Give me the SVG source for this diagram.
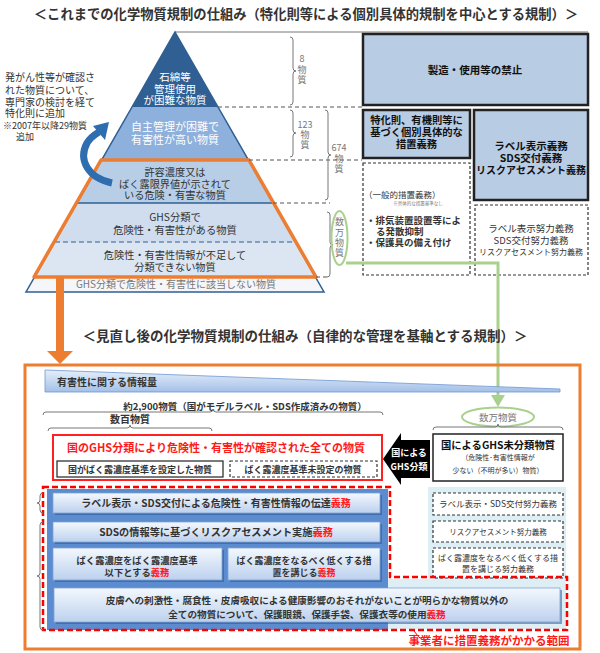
<svg xmlns="http://www.w3.org/2000/svg" width="600" height="653" viewBox="0 0 600 653">
<style>
text{font-family:'Noto Sans CJK JP','Noto Sans',sans-serif;fill:#333}
.c{text-anchor:middle}
.b{font-weight:bold}
.w{fill:#fff}
.g{fill:#777}
.r{fill:#FF1A1A}
.k{fill:#111}
.brace{fill:none;stroke:#777;stroke-width:1}
.dl{stroke:#555;stroke-width:1;stroke-dasharray:4 3;fill:none}
.sbox{fill:#B8CCE4;stroke:#222;stroke-width:2.5}
.dbox{fill:#fff;stroke:#333;stroke-width:1.2;stroke-dasharray:3 2}
.bar{fill:url(#barg);stroke:#7FA3D6;stroke-width:0.8}
.sh{fill:#2F5590;opacity:0.55}
</style>
<defs>
<linearGradient id="barg" x1="0" y1="0" x2="0" y2="1">
<stop offset="0" stop-color="#F4F8FD"/><stop offset="1" stop-color="#BCD1EE"/>
</linearGradient>
<linearGradient id="wedg" x1="0" y1="0" x2="0" y2="1">
<stop offset="0" stop-color="#E6EFFA"/><stop offset="1" stop-color="#A3C0E8"/>
</linearGradient>
</defs>
<rect width="600" height="653" fill="#fff"/>

<g id="title-top"><text class="c b" x="306" y="19" font-size="13.3">＜これまでの化学物質規制の仕組み（特化則等による個別具体的規制を中心とする規制）＞</text></g>

<line x1="175" y1="32" x2="588" y2="32" stroke="#777" stroke-width="1"/>

<g id="pyramid">
<polygon points="175,32 218,107 132,107" fill="#2F5F93"/>
<polygon points="132,107 218,107 249,160 101,160" fill="#8DB0DC"/>
<polygon points="101,160 249,160 273,203 77,203" fill="#B8CDE6"/>
<polygon points="77,203 273,203 295,242 55,242" fill="#D0DDEF"/>
<polygon points="55,242 295,242 316,277 34,277" fill="#DCE6F2"/>
<polygon points="34,277 316,277 324,292 26,292" fill="#F4F6FA"/>
<polygon points="175,32 324,292 26,292" fill="none" stroke="#2F5F93" stroke-width="1.5"/>
<line x1="77" y1="203" x2="273" y2="203" stroke="#2F5F93" stroke-width="1.5"/>
<line x1="55" y1="242" x2="295" y2="242" stroke="#2F5F93" stroke-width="1.2" stroke-dasharray="5 3"/>
<polygon points="101,160 249,160 316,277 34,277" fill="none" stroke="#ED7D31" stroke-width="3.5" stroke-linejoin="round"/>
<text class="c w" x="175" y="80.5" font-size="10.5">石綿等</text>
<text class="c w" x="175" y="92.5" font-size="10.5">管理使用</text>
<text class="c w" x="175" y="104" font-size="10.5">が困難な物質</text>
<text class="c w" x="175" y="131" font-size="11">自主管理が困難で</text>
<text class="c w" x="175" y="144" font-size="11">有害性が高い物質</text>
<text class="c" x="175" y="176" font-size="10.2">許容濃度又は</text>
<text class="c" x="175" y="187.5" font-size="10.2">ばく露限界値が示されて</text>
<text class="c" x="175" y="199" font-size="10.2">いる危険・有害な物質</text>
<text class="c" x="175" y="221" font-size="10.3">GHS分類で</text>
<text class="c" x="175" y="234" font-size="10.3">危険性・有害性がある物質</text>
<text class="c" x="175" y="259" font-size="10.2">危険性・有害性情報が不足して</text>
<text class="c" x="175" y="271" font-size="10.2">分類できない物質</text>
<text class="c g" x="176" y="288" font-size="10">GHS分類で危険性・有害性に該当しない物質</text>
</g>

<g id="curved-arrow">
<path d="M112,183 C88,178 78,160 87,143 C90,138 94,135 99,132" fill="none" stroke="#2E6DB0" stroke-width="7"/>
<polygon points="109,122 93,126 105,140" fill="#2E6DB0"/>
</g>

<g id="left-note">
<text x="5" y="81" font-size="10">発がん性等が確認さ</text>
<text x="5" y="93.5" font-size="10">れた物質について、</text>
<text x="5" y="105.5" font-size="10">専門家の検討を経て</text>
<text x="5" y="117" font-size="10">特化則に追加</text>
<text x="3" y="128.5" font-size="9">※2007年以降29物質</text>
<text x="16" y="139.5" font-size="9">追加</text>
</g>

<g id="counts">
<line class="dl" x1="218" y1="107" x2="362" y2="107"/>
<line class="dl" x1="249" y1="160" x2="362" y2="160"/>
<line class="dl" x1="273" y1="203" x2="330" y2="203"/>
<line class="dl" x1="316" y1="277" x2="330" y2="277"/>
<path class="brace" d="M290,37 Q293,37 293,40 V68 Q293,71 296,71 Q293,71 293,74 V102 Q293,105 290,105"/>
<text class="c g" x="302" y="62" font-size="9">8</text>
<text class="c g" x="302" y="72.5" font-size="9">物</text>
<text class="c g" x="302" y="83" font-size="9">質</text>
<path class="brace" d="M290,110 Q293,110 293,113 V130 Q293,133 296,133 Q293,133 293,136 V154 Q293,157 290,157"/>
<text class="c g" x="305" y="128" font-size="9">123</text>
<text class="c g" x="305" y="138" font-size="9">物</text>
<text class="c g" x="305" y="147.5" font-size="9">質</text>
<path class="brace" d="M325,110 Q328,110 328,113 V152 Q328,155 331,155 Q328,155 328,158 V197 Q328,200 325,200"/>
<text class="c g" x="339" y="151" font-size="9">674</text>
<text class="c g" x="339" y="161.5" font-size="9">物</text>
<text class="c g" x="339" y="172" font-size="9">質</text>
<path class="brace" d="M327,212 Q330,212 330,215 V242 Q330,245 333,245 Q330,245 330,248 V274 Q330,277 327,277"/>
<ellipse cx="339.5" cy="238" rx="8" ry="27" fill="none" stroke="#A9D18E" stroke-width="2"/>
<text class="c g" x="339.5" y="225" font-size="9">数</text>
<text class="c g" x="339.5" y="235.5" font-size="9">万</text>
<text class="c g" x="339.5" y="245.5" font-size="9">物</text>
<text class="c g" x="339.5" y="255.5" font-size="9">質</text>
</g>

<g id="box-ban">
<rect class="sbox" x="363" y="34" width="225" height="71"/>
<text class="c b k" x="475" y="74" font-size="10.5">製造・使用等の禁止</text>
</g>
<g id="box-specific">
<rect class="sbox" x="363" y="110" width="107" height="48"/>
<text class="c b k" x="416.5" y="124" font-size="10.3">特化則、有機則等に</text>
<text class="c b k" x="416.5" y="136" font-size="10.3">基づく個別具体的な</text>
<text class="c b k" x="416.5" y="147.5" font-size="10.3">措置義務</text>
</g>
<g id="box-label-duty">
<rect class="sbox" x="474" y="110" width="114" height="90"/>
<text class="c b k" x="531" y="150" font-size="10.5">ラベル表示義務</text>
<text class="c b k" x="531" y="162" font-size="10.5">SDS交付義務</text>
<text class="c b k" x="531" y="174" font-size="10">リスクアセスメント義務</text>
</g>
<g id="box-general">
<rect class="dbox" x="363" y="163" width="107" height="112"/>
<text x="364" y="198" font-size="8.5">（一般的措置義務）</text>
<text class="c g" x="418" y="205" font-size="4.5">※具体的な措置基準なし</text>
<text class="b" x="366" y="223.5" font-size="9.5">・排気装置設置等によ</text>
<text class="b" x="376" y="234.5" font-size="9.5">る発散抑制</text>
<text class="b" x="366" y="245.5" font-size="9.5">・保護具の備え付け</text>
</g>
<g id="box-effort">
<rect class="dbox" x="475" y="205" width="113" height="70"/>
<text class="c" x="531" y="231.5" font-size="9.5">ラベル表示努力義務</text>
<text class="c" x="531" y="243.5" font-size="9.5" fill="#555">SDS交付努力義務</text>
<text class="c" x="531" y="255" font-size="8">リスクアセスメント努力義務</text>
</g>

<g id="connectors">
<polyline points="346,263 498,263 498,396" fill="none" stroke="#A9D18E" stroke-width="3"/>
<polygon points="491,395 505,395 498,407" fill="#A9D18E"/>
<rect x="56" y="277" width="8" height="75" fill="#ED7D31"/>
<polygon points="47,351 73,351 60,364" fill="#ED7D31"/>
</g>

<g id="title-bottom"><text class="c b" x="305" y="341" font-size="13.5">＜見直し後の化学物質規制の仕組み（自律的な管理を基軸とする規制）＞</text></g>

<g id="frame">
<rect x="25" y="365" width="555" height="284" fill="none" stroke="#ED7D31" stroke-width="3"/>
</g>

<g id="info-wedge">
<polygon points="45,370 560,389 560,392 45,392" fill="url(#wedg)" stroke="#6E97D2" stroke-width="0.8"/>
<text class="b" x="57" y="386" font-size="10">有害性に関する情報量</text>
</g>

<g id="range-2900">
<text class="c b" x="245" y="410" font-size="9.5">約2,900物質（国がモデルラベル・SDS作成済みの物質）</text>
<path class="brace" d="M43,415 Q43,412 46,412 H210 Q213,412 213,409 Q213,412 216,412 H380 Q383,412 383,415"/>
</g>
<g id="range-hundreds">
<text class="c b" x="130" y="422.5" font-size="10">数百物質</text>
<path class="brace" d="M48,431 Q48,428 51,428 H127 Q130,428 130,425 Q130,428 133,428 H209 Q212,428 212,431"/>
</g>

<g id="box-ghs-confirmed">
<rect x="53" y="435" width="329" height="45" fill="#fff" stroke="#FF2020" stroke-width="2"/>
<text class="c b r" x="216" y="452" font-size="11">国のGHS分類により危険性・有害性が確認された全ての物質</text>
<rect x="57" y="461" width="166" height="16" fill="#fff" stroke="#222" stroke-width="1.2"/>
<text class="c b" x="140" y="473" font-size="9">国がばく露濃度基準を設定した物質</text>
<rect class="dbox" x="230" y="461" width="147" height="16"/>
<text class="c b" x="303" y="473" font-size="9">ばく露濃度基準未設定の物質</text>
</g>

<g id="arrow-ghs">
<polygon points="383,459 401,433 401,440 430,440 430,478 401,478 401,485" fill="#000"/>
<text class="c b w" x="409" y="456" font-size="9">国による</text>
<text class="c b w" x="409" y="470" font-size="9">GHS分類</text>
</g>

<g id="unclassified">
<ellipse cx="498" cy="417" rx="36" ry="9.5" fill="#fff" stroke="#A9D18E" stroke-width="2"/>
<text class="c g" x="498" y="420.5" font-size="9.5">数万物質</text>
<path class="brace" d="M433,430 Q433,427 436,427 H495 Q498,427 498,424 Q498,427 501,427 H560 Q563,427 563,430"/>
<rect x="433" y="434" width="130" height="47" fill="#fff" stroke="#222" stroke-width="1.5"/>
<text class="c b k" x="498" y="449" font-size="10.3">国によるGHS未分類物質</text>
<text class="c" x="498" y="460" font-size="7">（危険性･有害性情報が</text>
<text class="c" x="498" y="472.5" font-size="7">少ない（不明が多い）物質）</text>
</g>

<g id="duties">
<rect x="47" y="489" width="341" height="141" fill="#5B8CCF"/>
<path d="M428,487 H566 V629 H388 V579 H428 Z" fill="#DDEEF4"/>
<rect class="sh" x="55" y="495" width="327" height="20"/>
<rect class="bar" x="53" y="493" width="327" height="20"/>
<text class="c b" x="216" y="507" font-size="10">ラベル表示・SDS交付による危険性・有害性情報の伝達<tspan class="r">義務</tspan></text>
<rect class="sh" x="55" y="524" width="327" height="20"/>
<rect class="bar" x="53" y="522" width="327" height="20"/>
<text class="c b" x="216" y="535.5" font-size="10.2">SDSの情報等に基づくリスクアセスメント実施<tspan class="r">義務</tspan></text>
<rect class="sh" x="55" y="550" width="169" height="32"/>
<rect class="bar" x="53" y="548" width="169" height="32"/>
<text class="c b" x="137" y="563.5" font-size="9.3">ばく露濃度をばく露濃度基準</text>
<text class="c b" x="137" y="575.5" font-size="9.3">以下とする<tspan class="r">義務</tspan></text>
<rect class="sh" x="230" y="550" width="152" height="32"/>
<rect class="bar" x="228" y="548" width="152" height="32"/>
<text class="c b" x="304" y="563.5" font-size="9">ばく露濃度をなるべく低くする措</text>
<text class="c b" x="304" y="575.5" font-size="9">置を講じる<tspan class="r">義務</tspan></text>
<rect class="sh" x="56" y="590" width="506" height="34"/>
<rect class="bar" x="54" y="588" width="506" height="34"/>
<text class="c b" x="307" y="603.5" font-size="9.6">皮膚への刺激性・腐食性・皮膚吸収による健康影響のおそれがないことが明らかな物質以外の</text>
<text class="c b" x="307" y="617.5" font-size="9.6">全ての物質について、保護眼鏡、保護手袋、保護衣等の使用<tspan class="r">義務</tspan></text>
<rect class="dbox" x="433" y="493" width="130" height="22"/>
<text class="c" x="498" y="507" font-size="8.5">ラベル表示・SDS交付努力義務</text>
<rect class="dbox" x="433" y="521" width="130" height="21"/>
<text class="c" x="498" y="535" font-size="7.5">リスクアセスメント努力義務</text>
<rect class="dbox" x="433" y="548" width="130" height="30"/>
<text class="c" x="498" y="561" font-size="8">ばく露濃度をなるべく低くする措</text>
<text class="c" x="498" y="572" font-size="8">置を講じる努力義務</text>
<path d="M43,487 H390 V577 H567 V630 H43 Z" fill="none" stroke="#FF0000" stroke-width="2.5" stroke-dasharray="6 3"/>
<path class="brace" d="M43,493 Q40,493 40,496 V500 Q40,503 37,503 Q40,503 40,506 V510 Q40,513 43,513"/>
<path class="brace" d="M43,522 Q40,522 40,525 V573 Q40,576 37,576 Q40,576 40,579 V627 Q40,630 43,630"/>
</g>

<g id="scope-label">
<path d="M414,631 Q418,638 425,641" fill="none" stroke="#FF0000" stroke-width="1"/>
<text class="c b r" x="489" y="645" font-size="11.5">事業者に措置義務がかかる範囲</text>
</g>
</svg>
